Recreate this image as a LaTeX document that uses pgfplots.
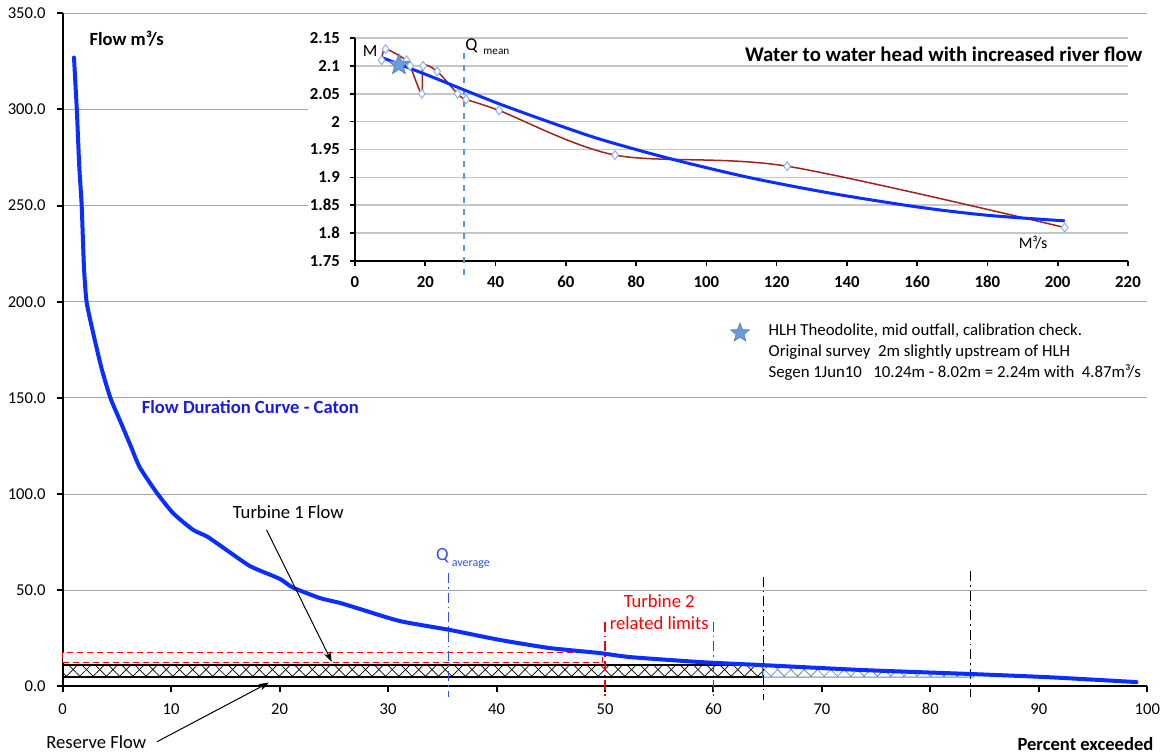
\documentclass[border=0pt]{standalone}
\usepackage{fontspec}
\setmainfont{Carlito}
\usepackage{pgfplots}
\pgfplotsset{compat=1.18}
\usetikzlibrary{patterns.meta,arrows.meta}

\definecolor{flowBlue}{HTML}{0A2EFF}
\definecolor{txtBlue}{HTML}{1A1AE6}
\definecolor{qBlue}{HTML}{3050F0}
\definecolor{headRed}{HTML}{A3221A}
\definecolor{mkEdge}{HTML}{8DB3E2}
\definecolor{starBlue}{HTML}{6A9BDB}
\definecolor{wedgeBlue}{HTML}{8EB4E3}
\definecolor{gridGray}{HTML}{A6A6A6}
\definecolor{qmeanBlue}{HTML}{5B9BD5}

% filled five point star, used for the survey point
\pgfdeclareplotmark{fstar}{%
  \pgfpathmoveto{\pgfpointpolar{90}{\pgfplotmarksize}}%
  \pgfpathlineto{\pgfpointpolar{126}{0.42\pgfplotmarksize}}%
  \pgfpathlineto{\pgfpointpolar{162}{\pgfplotmarksize}}%
  \pgfpathlineto{\pgfpointpolar{198}{0.42\pgfplotmarksize}}%
  \pgfpathlineto{\pgfpointpolar{234}{\pgfplotmarksize}}%
  \pgfpathlineto{\pgfpointpolar{270}{0.42\pgfplotmarksize}}%
  \pgfpathlineto{\pgfpointpolar{306}{\pgfplotmarksize}}%
  \pgfpathlineto{\pgfpointpolar{342}{0.42\pgfplotmarksize}}%
  \pgfpathlineto{\pgfpointpolar{18}{\pgfplotmarksize}}%
  \pgfpathlineto{\pgfpointpolar{54}{0.42\pgfplotmarksize}}%
  \pgfpathclose
  \pgfusepathqfillstroke
}

\tikzset{
  dashdot/.style={dash pattern=on 5pt off 2pt on 0.8pt off 2pt, line width=0.6pt},
  xhatch/.style={pattern={Lines[angle=45,distance=4.7pt,line width=0.35pt]},
    postaction={pattern={Lines[angle=-45,distance=4.7pt,line width=0.35pt]}}},
  lab/.style={font=\fontsize{9.3}{11}\selectfont},
  blab/.style={font=\bfseries\fontsize{9.3}{11}\selectfont},
}

\begin{document}
\begin{tikzpicture}
% ---------------- flow duration curve ----------------
\begin{axis}[
  name=main,
  scale only axis,
  width=542.3pt, height=336.6pt,
  xmin=0, xmax=100, ymin=0, ymax=350,
  axis x line*=bottom, axis y line*=left,
  axis line style={line width=1pt},
  xtick={0,10,...,100}, ytick={0,50,...,350},
  ymajorgrids,
  major grid style={gridGray, line width=0.5pt},
  tick style={black, line width=1pt},
  major tick length=3pt,
  tick align=outside,
  /pgf/number format/assume math mode=true,
  ticklabel style={font=\fontsize{8.3}{9}\selectfont},
  yticklabel style={/pgf/number format/fixed, /pgf/number format/fixed zerofill,
    /pgf/number format/precision=1, xshift=-2pt},
  xticklabel style={yshift=-2pt},
  clip=false,
]

% reserve flow band
\addplot[draw=black, line width=0.9pt, xhatch]
  coordinates {(0,4.8)(64.6,4.8)(64.6,11.2)(0,11.2)} -- cycle;
\addplot[draw=wedgeBlue, line width=0.7pt,
  pattern={Lines[angle=45,distance=4.7pt,line width=0.3pt]}, pattern color=black!55,
  postaction={pattern={Lines[angle=-45,distance=4.7pt,line width=0.3pt]}, pattern color=black!55}]
  coordinates {(64.6,4.8)(84,4.8)(84,6.0)(64.6,11.1)} -- cycle;

% turbine 1 band
\addplot[draw=red, densely dashed, line width=0.6pt, fill=gray!8]
  coordinates {(0,12.4)(49.8,12.4)(49.8,17.6)(0,17.6)} -- cycle;

% vertical markers
\addplot[qBlue, dashdot] coordinates {(35.6,59)(35.6,-5.5)};
\addplot[red, dashdot] coordinates {(50,33.7)(50,-7)};
\addplot[red, dashdot] coordinates {(60,33.7)(60,-7)};
\addplot[black, dashdot] coordinates {(64.6,57)(64.6,-7)};
\addplot[black, dashdot] coordinates {(83.7,60)(83.7,-5.5)};

% flow duration curve
\addplot[flowBlue, line width=2pt, line join=round, line cap=round, smooth, tension=0.35] coordinates {
  (1.04,327)(1.3,300)(1.53,270)(1.75,250)(1.96,218)(2.2,200)(2.8,184)
  (3.6,165)(4.4,150)(5.3,138)(6.2,126)(7.1,114)(8.7,100.5)(10.2,90)
  (12.0,81.5)(13.3,78)(15.1,71)(17.3,62.5)(20,56)(21.2,51.5)(23.7,46)
  (25.6,43.4)(27.4,40.3)(31.1,34)(35.7,29.4)(40.3,24.2)(44.9,20)
  (49.5,17.4)(52.3,15.3)(58.8,12.7)(64.6,11.1)(74,8.5)(83.7,6.5)
  (91,4.8)(99,2.3)
};

% legend star for the note
\addplot[only marks, mark=fstar, mark size=5pt,
  mark options={fill=starBlue, draw=starBlue!80!black, line width=0.3pt}]
  coordinates {(62.45,183.8)};

\node[blab] at (axis cs:5.9,337) {Flow m³/s};
\node[blab, text=txtBlue] at (axis cs:17.3,145.5) {Flow Duration Curve - Caton};
\node[lab] at (axis cs:20.8,90.7) {Turbine 1 Flow};
\node[lab] at (axis cs:3.1,-28.7) {Reserve Flow};
\node[blab] at (axis cs:94.3,-30) {Percent exceeded};
\node[lab, text=red, align=center] at (axis cs:55,38.5)
  {Turbine 2\\[0pt]related limits};
\node[lab, text=qBlue, anchor=west, inner sep=0pt] at (axis cs:34.4,66.5)
  {Q\,\raisebox{-0.7ex}{\fontsize{6}{7}\selectfont average}};

\node[font=\fontsize{8.4}{10.5}\selectfont, anchor=north west, align=left, inner sep=0pt]
  at (axis cs:65.05,188.8)
  {HLH Theodolite, mid outfall, calibration check.\\
   Original survey\ \ 2m slightly upstream of HLH\\
   Segen 1Jun10\ \ \ 10.24m - 8.02m = 2.24m with\ \ 4.87m³/s};

\draw[-{Stealth[length=5pt,width=3.5pt]}, line width=0.5pt] (axis cs:18.8,81.4) -- (axis cs:24.8,12.9);
\draw[-{Stealth[length=5pt,width=3.5pt]}, line width=0.5pt] (axis cs:8.7,-28.7) -- (axis cs:19,2.0);
\end{axis}

% white backing for the head inset
\fill[white] (122.65pt,193.25pt) rectangle (545pt,334.5pt);

% ---------------- head vs river flow inset ----------------
\begin{axis}[
  at={(146.15pt,212.75pt)}, anchor=south west,
  scale only axis,
  width=386.5pt, height=111.5pt,
  xmin=0, xmax=220, ymin=1.75, ymax=2.15,
  axis x line*=bottom, axis y line*=left,
  axis line style={line width=0.8pt},
  xtick={0,20,...,220},
  ytick={1.75,1.8,1.85,1.9,1.95,2,2.05,2.1,2.15},
  ymajorgrids,
  major grid style={gray!45, line width=0.8pt},
  tick style={black, line width=0.8pt},
  major tick length=2.5pt,
  tick align=outside,
  /pgf/number format/assume math mode=true,
  ticklabel style={font=\bfseries\fontsize{8.4}{9}\selectfont},
  yticklabel style={/pgf/number format/fixed, /pgf/number format/precision=2, xshift=-1.5pt},
  xticklabel style={yshift=-1.5pt},
  clip=false,
]

\addplot[qmeanBlue, dashed, line width=0.6pt] coordinates {(31,2.123)(31,1.725)};

\addplot[headRed, line width=0.75pt, smooth, tension=0.5,
  mark=diamond*, mark size=2.2pt, mark options={fill=white, draw=mkEdge, line width=0.5pt}]
  coordinates {
  (7.6,2.11)(8.7,2.13)(14.7,2.11)(15.7,2.10)(19,2.05)(19.4,2.10)(23.4,2.09)
  (29.2,2.05)(31.6,2.04)(41,2.02)(74,1.94)(123,1.92)(202,1.81)
};

% fitted trend
\addplot[flowBlue, line width=1.5pt, smooth] coordinates {
  (7.6,2.115)(20,2.085)(31,2.057)(41,2.032)(55,2.0)(70,1.968)(90,1.933)
  (112,1.90)(135,1.872)(160,1.847)(180,1.832)(202,1.822)
};

\addplot[only marks, mark=fstar, mark size=5.5pt,
  mark options={fill=starBlue, draw=starBlue!80!black, line width=0.3pt}]
  coordinates {(12.5,2.102)};

\node[font=\fontsize{8.5}{9}\selectfont] at (axis cs:4.3,2.127) {M};
\node[font=\fontsize{9}{10}\selectfont, anchor=west, inner sep=0pt] at (axis cs:31.3,2.134)
  {Q\hspace{3pt}\raisebox{-0.5ex}{\fontsize{5.6}{7}\selectfont mean}};
\node[font=\fontsize{8}{9}\selectfont] at (axis cs:193,1.782) {M³/s};
\node[font=\bfseries\fontsize{10.4}{12}\selectfont, anchor=east, inner sep=0pt] at (axis cs:224.2,2.121)
  {Water to water head with increased river flow};
\end{axis}

\pgfresetboundingbox
\path[use as bounding box] (-31.35pt,-34.75pt) rectangle (556.15pt,343.25pt);
\end{tikzpicture}
\end{document}
